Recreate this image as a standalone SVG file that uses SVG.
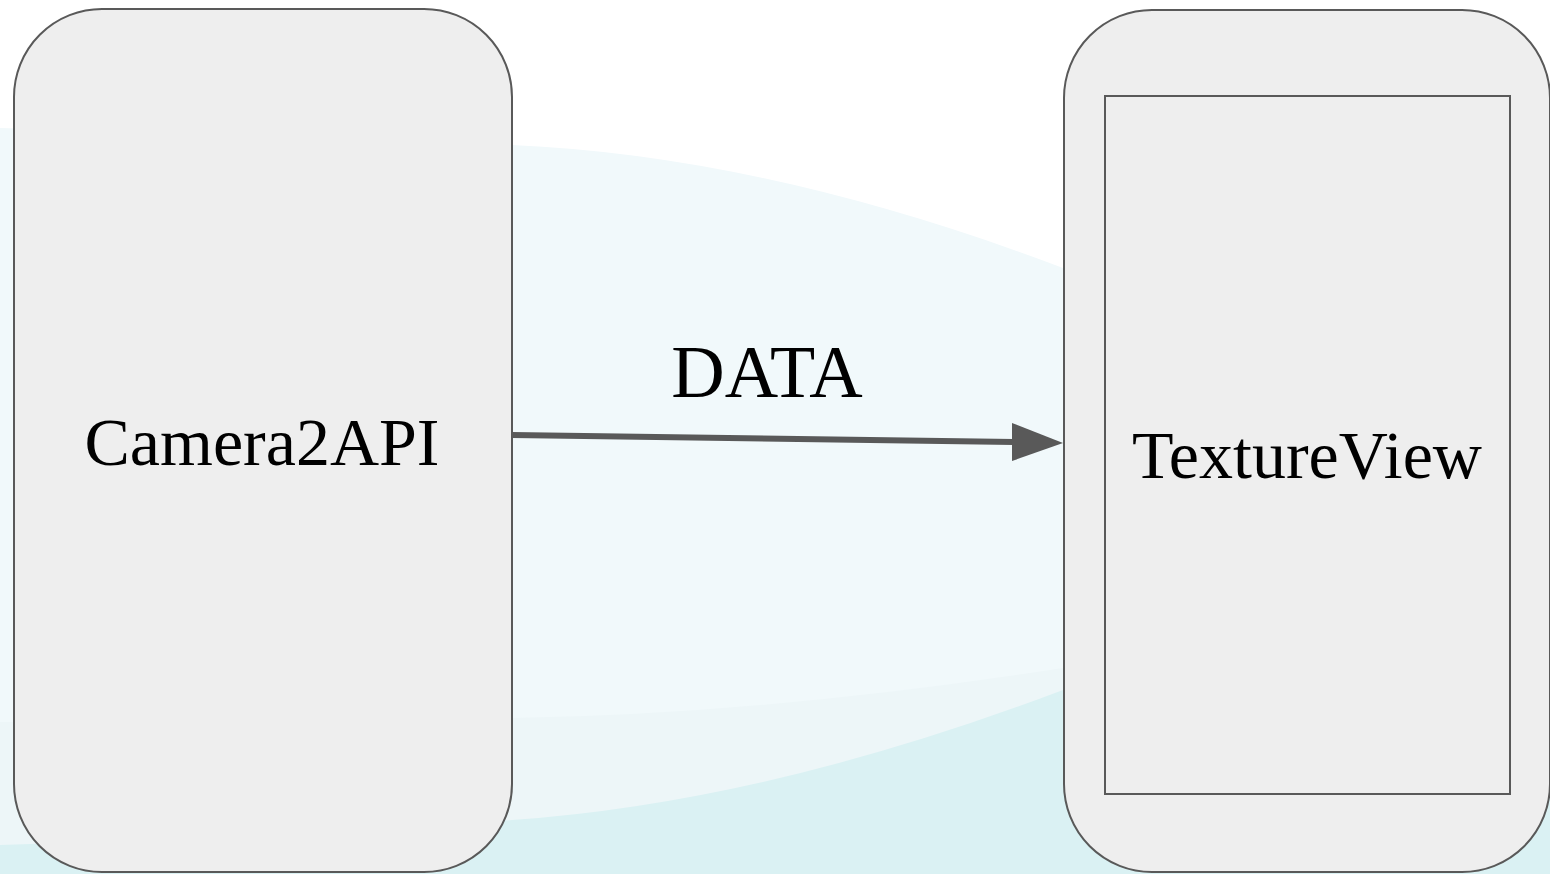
<svg xmlns="http://www.w3.org/2000/svg" width="1550" height="874" viewBox="0 0 1550 874">
<style>
.node{fill:#eeeeee;stroke:#595959;stroke-width:2}
.lbl{font-family:"Liberation Serif","Times New Roman",serif;fill:#000;text-anchor:middle}
</style>
<g id="background">
<rect x="0" y="0" width="1550" height="874" fill="#ffffff"/>
<path d="M0,128 Q256,134 512,145 T1063,268 L1550,420 L1550,874 L0,874 Z" fill="#f1f9fb"/>
<path d="M0,722 Q256,722 512,718 T1063,668 L1550,560 L1550,874 L0,874 Z" fill="#edf6f8"/>
<path d="M0,845 Q256,838 512,820 T1063,690 L1550,520 L1550,874 L0,874 Z" fill="#daf1f3"/>
</g>
<g id="connectors">
<line x1="512" y1="435" x2="1014" y2="442" stroke="#595959" stroke-width="6"/>
<path d="M1012,423 L1063,443 L1012,461 Z" fill="#595959"/>
</g>
<g id="node-camera2api">
<rect class="node" x="14" y="9" width="498" height="863" rx="88" ry="88"/>
<text class="lbl" x="262" y="465" font-size="68">Camera2API</text>
</g>
<g id="node-textureview">
<rect class="node" x="1064" y="10" width="486" height="862" rx="88" ry="88"/>
<rect class="node" x="1105" y="96" width="405" height="698"/>
<text class="lbl" x="1307" y="478" font-size="68">TextureView</text>
</g>
<g id="label-data">
<text class="lbl" x="767" y="397" font-size="74">DATA</text>
</g>
</svg>
